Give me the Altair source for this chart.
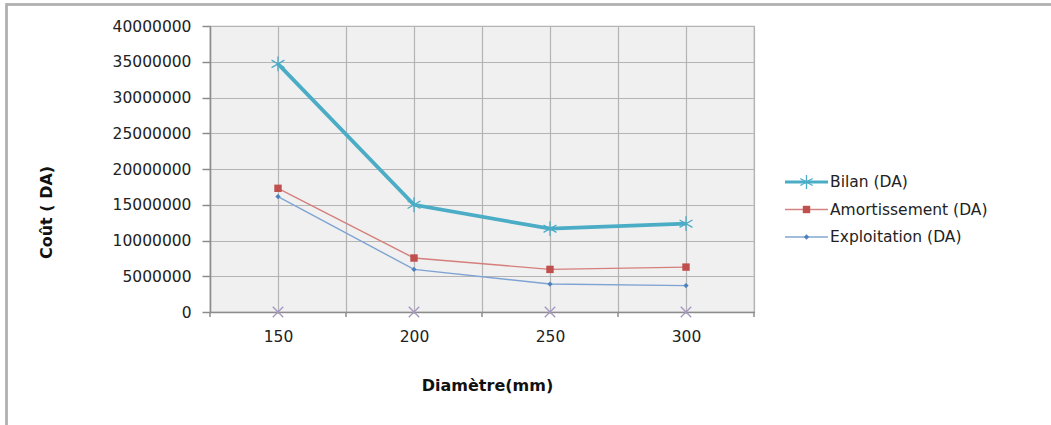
import altair as alt
import pandas as pd

diametres = [150, 200, 250, 300]
bilan = [34700000, 15000000, 11650000, 12350000]
amortissement = [17300000, 7550000, 5960000, 6280000]
exploitation = [16150000, 5960000, 3910000, 3690000]
serie3 = [0, 0, 0, 0]
serie4 = [0, 0, 0, 0]

names = ["Bilan (DA)", "Amortissement (DA)", "Exploitation (DA)"]
colors = ["#4BACC6", "#C0504D", "#4F81BD"]

rows = []
for name, vals in [("Bilan (DA)", bilan), ("Amortissement (DA)", amortissement),
                   ("Exploitation (DA)", exploitation), ("S3", serie3), ("S4", serie4)]:
    for d, v in zip(diametres, vals):
        rows.append({"serie": name, "d": d, "v": v})
df = pd.DataFrame(rows)

FONT = "DejaVu Sans"
LFS = 15.5
xs = alt.Scale(domain=[125, 325], nice=False, zero=False)
ys = alt.Scale(domain=[0, 40000000], nice=False)

X = alt.X("d:Q", scale=xs, axis=alt.Axis(
    values=[125, 150, 175, 200, 225, 250, 275, 300, 325],
    labelExpr="datum.value % 50 == 0 ? datum.value : ''",
    ticks=False, grid=True, gridColor="#b4b4b4", gridWidth=1.2,
    domainColor="#8c8c8c", domainWidth=1.5,
    labelFont=FONT, labelFontSize=LFS, labelColor="#222222", labelPadding=17,
    labelBaseline="top",
    title="Diamètre(mm)", titleFont=FONT, titleFontSize=16, titleFontWeight="bold",
    titleColor="#111111", titleX=277, titleY=65, titleBaseline="top"))
Y = alt.Y("v:Q", scale=ys, axis=alt.Axis(
    values=[0, 5000000, 10000000, 15000000, 20000000, 25000000, 30000000, 35000000, 40000000],
    format="d", grid=True, gridColor="#b4b4b4", gridWidth=1.2,
    domainColor="#8c8c8c", domainWidth=1.5, tickColor="#8c8c8c", tickSize=8, tickWidth=1.5,
    labelFont=FONT, labelFontSize=LFS, labelColor="#222222", labelPadding=11,
    title="Coût ( DA)", titleFont=FONT, titleFontSize=16, titleFontWeight="bold",
    titleColor="#111111", titleAngle=-90, titleX=-164, titleY=186,
    titleAlign="center", titleBaseline="middle"))

base = alt.Chart(df)

def sel(n):
    return base.transform_filter(alt.datum.serie == n)

asterisk = "M0,-1L0,1M-0.87,-0.5L0.87,0.5M-0.87,0.5L0.87,-0.5"
xmark = "M-1,-1L1,1M-1,1L1,-1"

line_b = sel("Bilan (DA)").mark_line(color="#4BACC6", strokeWidth=3.8).encode(x=X, y=Y)
line_a = sel("Amortissement (DA)").mark_line(color="#D47F7C", strokeWidth=1.4).encode(x=X, y=Y)
line_e = sel("Exploitation (DA)").mark_line(color="#7FA3D2", strokeWidth=1.4).encode(x=X, y=Y)
pt_b = sel("Bilan (DA)").mark_point(shape=asterisk, size=220, color="#4BACC6", strokeWidth=1.3,
                                    filled=False, opacity=1).encode(x=X, y=Y)
pt_a = sel("Amortissement (DA)").mark_point(shape="square", size=55, color="#C0504D", filled=True,
                                            opacity=1).encode(x=X, y=Y)
pt_e = sel("Exploitation (DA)").mark_point(shape="diamond", size=28, color="#4F81BD", filled=True,
                                           opacity=1).encode(x=X, y=Y)
pt_3 = sel("S3").mark_point(shape="triangle-up", size=14, color="#9BBB59", filled=True,
                            opacity=1).encode(x=X, y=Y)
pt_4 = sel("S4").mark_point(shape=xmark, size=110, color="#A593C2", strokeWidth=1.3,
                            filled=False, opacity=1).encode(x=X, y=Y)

# ticks at category boundaries
bounds = pd.DataFrame({"b": [125, 175, 225, 275, 325]})
ticks = alt.Chart(bounds).mark_rule(color="#8c8c8c", strokeWidth=1.5).encode(
    x=alt.X("b:Q", scale=xs), y=alt.value(286), y2=alt.value(291))

main = alt.layer(line_b, line_a, line_e, pt_3, pt_4, pt_b, pt_a, pt_e, ticks)

# legend
leg = pd.DataFrame({"serie": names, "c": colors, "rank": [0, 1, 2]})
LY = alt.Y("rank:Q", scale=alt.Scale(domain=[0, 2], range=[156, 211], zero=False, nice=False), axis=None)
lc = alt.Color("serie:N", scale=alt.Scale(domain=names, range=colors), legend=None)
lbase = alt.Chart(leg)
leg_line_b = lbase.transform_filter(alt.datum.serie == "Bilan (DA)").mark_rule(strokeWidth=3.2).encode(
    x=alt.value(575), x2=alt.value(618), y=LY, color=lc)
leg_line_o = lbase.transform_filter(alt.datum.serie != "Bilan (DA)").mark_rule(strokeWidth=1.4, opacity=0.7).encode(
    x=alt.value(575), x2=alt.value(618), y=LY, color=lc)
leg_pt_b = lbase.transform_filter(alt.datum.serie == "Bilan (DA)").mark_point(
    shape=asterisk, size=200, strokeWidth=1.3, filled=False, opacity=1).encode(x=alt.value(596.5), y=LY, color=lc)
leg_pt_a = lbase.transform_filter(alt.datum.serie == "Amortissement (DA)").mark_point(
    shape="square", size=55, filled=True, opacity=1).encode(x=alt.value(596.5), y=LY, color=lc)
leg_pt_e = lbase.transform_filter(alt.datum.serie == "Exploitation (DA)").mark_point(
    shape="diamond", size=28, filled=True, opacity=1).encode(x=alt.value(596.5), y=LY, color=lc)
leg_txt = lbase.mark_text(align="left", baseline="middle", font=FONT, fontSize=LFS,
                          color="#222222").encode(x=alt.value(620), y=LY, text="serie:N")
# outer frame
frame_top = lbase.mark_rule(color="#b0b0b0", strokeWidth=2).encode(
    x=alt.value(-204), x2=alt.value(841), y=alt.value(-21.5))
frame_left = lbase.mark_rule(color="#b0b0b0", strokeWidth=2).encode(
    x=alt.value(-203.5), y=alt.value(-22.5), y2=alt.value(400))

legend = alt.layer(leg_line_b, leg_line_o, leg_pt_b, leg_pt_a, leg_pt_e, leg_txt, frame_top, frame_left)

chart = alt.layer(main, legend).resolve_scale(y="independent", color="independent").properties(
    width=544, height=286,
    autosize=alt.AutoSizeParams(type="none"),
    padding={"left": 210, "top": 26, "right": 297, "bottom": 113},
    background="white",
).configure_view(fill="#f0f0f0", stroke="#b4b4b4", strokeWidth=1.2)

chart.save("out.html", embed_options={"renderer": "svg", "actions": False})
